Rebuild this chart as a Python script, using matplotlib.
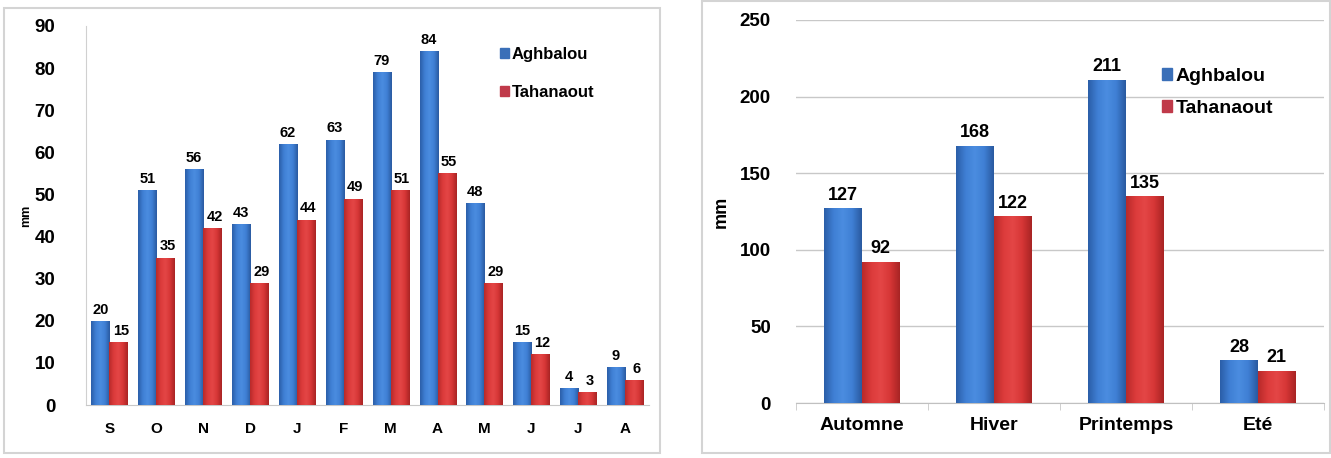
import matplotlib.pyplot as plt
import numpy as np
from matplotlib.colors import LinearSegmentedColormap
from matplotlib.patches import Rectangle

plt.rcParams['font.family'] = ['Liberation Sans', 'DejaVu Sans']
plt.rcParams['font.weight'] = 'bold'

# monthly data
mois = ['S', 'O', 'N', 'D', 'J', 'F', 'M', 'A', 'M', 'J', 'J', 'A']
aghbalou_m = [20, 51, 56, 43, 62, 63, 79, 84, 48, 15, 4, 9]
tahanaout_m = [15, 35, 42, 29, 44, 49, 51, 55, 29, 12, 3, 6]

# seasonal data
saisons = ['Automne', 'Hiver', 'Printemps', 'Eté']
aghbalou_s = [127, 168, 211, 28]
tahanaout_s = [92, 122, 135, 21]

blue_cm = LinearSegmentedColormap.from_list('b', ['#2b5ea8', '#3f7fd4', '#4b8de0', '#3f7fd4', '#2a5aa0'])
red_cm = LinearSegmentedColormap.from_list('r', ['#b82a2a', '#dc3b3b', '#e44646', '#d63636', '#a82424'])
grad = np.linspace(0, 1, 64).reshape(1, -1)


def gradient_bars(ax, bars, cmap):
    for b in bars:
        x, y = b.get_x(), b.get_y()
        w, h = b.get_width(), b.get_height()
        im = ax.imshow(grad, cmap=cmap, aspect='auto', extent=(x, x + w, y, y + h),
                       zorder=3, interpolation='bicubic')
        im.set_clip_path(b)
        b.set_alpha(0)


fig = plt.figure(figsize=(13.31, 4.58), dpi=100)

# panel frames
fig.patches.append(Rectangle((4/1331, 1 - 453/458), 656/1331, 445/458, transform=fig.transFigure,
                             fill=False, edgecolor='#d4d4d4', lw=1.5))
fig.patches.append(Rectangle((702/1331, 1 - 453/458), 628/1331, 452/458, transform=fig.transFigure,
                             fill=False, edgecolor='#d4d4d4', lw=1.5))

# ---- left: monthly
ax1 = fig.add_axes([86/1331, 1 - 405/458, 562.5/1331, 379/458])
x = np.arange(len(mois))
w = 0.385
b1 = ax1.bar(x - w/2, aghbalou_m, w, color='#3f7fd4', label='Aghbalou')
b2 = ax1.bar(x + w/2, tahanaout_m, w, color='#dc3b3b', label='Tahanaout')
gradient_bars(ax1, b1, blue_cm)
gradient_bars(ax1, b2, red_cm)
for xi, v in zip(x, aghbalou_m):
    ax1.text(xi - w/2, v + 1, str(v), ha='center', va='bottom', fontsize=10.5, fontweight='bold')
for xi, v in zip(x, tahanaout_m):
    ax1.text(xi + w/2 + 0.05, v + 1, str(v), ha='center', va='bottom', fontsize=10.5, fontweight='bold')
ax1.set_xlim(-0.5, len(mois) - 0.5)
ax1.set_ylim(0, 90)
ax1.set_yticks(range(0, 91, 10))
ax1.set_xticks(x)
ax1.set_xticklabels(mois)
ax1.tick_params(axis='y', length=0, labelsize=13.5, pad=22)
ax1.tick_params(axis='x', length=0, labelsize=11, pad=12)
ax1.set_ylabel('mm', fontsize=9, fontweight='bold')
ax1.yaxis.set_label_coords(-0.095, 0.5)
for s in ['top', 'right']:
    ax1.spines[s].set_visible(False)
ax1.spines['left'].set_color('#d0d0d0')
ax1.spines['bottom'].set_color('#c8c8c8')
leg1 = ax1.legend(loc='upper left', bbox_to_anchor=(0.71, 0.985), frameon=False,
                  handlelength=0.5, handleheight=0.5, handletextpad=0.2, labelspacing=1.4,
                  prop={'weight': 'bold', 'size': 12})
for h, c in zip(leg1.legend_handles, ['#3a6fb8', '#c03a4a']):
    h.set_alpha(1)
    h.set_color(c)

# ---- right: seasonal
ax2 = fig.add_axes([796/1331, 1 - 403/458, 528/1331, 383/458])
xs = np.arange(len(saisons))
w2 = 0.285
c1 = ax2.bar(xs - w2/2, aghbalou_s, w2, color='#3f7fd4', label='Aghbalou')
c2 = ax2.bar(xs + w2/2, tahanaout_s, w2, color='#dc3b3b', label='Tahanaout')
gradient_bars(ax2, c1, blue_cm)
gradient_bars(ax2, c2, red_cm)
for xi, v in zip(xs, aghbalou_s):
    ax2.text(xi - w2/2, v + 3, str(v), ha='center', va='bottom', fontsize=13, fontweight='bold')
for xi, v in zip(xs, tahanaout_s):
    ax2.text(xi + w2/2, v + 3, str(v), ha='center', va='bottom', fontsize=13, fontweight='bold')
ax2.set_xlim(-0.5, len(saisons) - 0.5)
ax2.set_ylim(0, 250)
ax2.set_yticks(range(0, 251, 50))
ax2.set_xticks(xs)
ax2.set_xticklabels(saisons)
ax2.set_xticks(np.arange(len(saisons) + 1) - 0.5, minor=True)
ax2.grid(axis='y', color='#c8c8c8', lw=1)
ax2.set_axisbelow(True)
ax2.tick_params(axis='y', length=0, labelsize=13.5, pad=18)
ax2.tick_params(axis='x', which='major', length=0, labelsize=14, pad=10)
ax2.tick_params(axis='x', which='minor', length=5, color='#c8c8c8', direction='out')
ax2.set_ylabel('mm', fontsize=13, fontweight='bold')
ax2.yaxis.set_label_coords(-0.125, 0.5)
for s in ['top', 'right', 'left']:
    ax2.spines[s].set_visible(False)
ax2.spines['bottom'].set_color('#c0c0c0')
leg2 = ax2.legend(loc='upper left', bbox_to_anchor=(0.66, 0.92), frameon=False,
                  handlelength=0.5, handleheight=0.6, handletextpad=0.2, labelspacing=0.75,
                  prop={'weight': 'bold', 'size': 14})
for h, c in zip(leg2.legend_handles, ['#3a6fb8', '#c03a4a']):
    h.set_alpha(1)
    h.set_color(c)

fig.savefig('out.png', dpi=100)
